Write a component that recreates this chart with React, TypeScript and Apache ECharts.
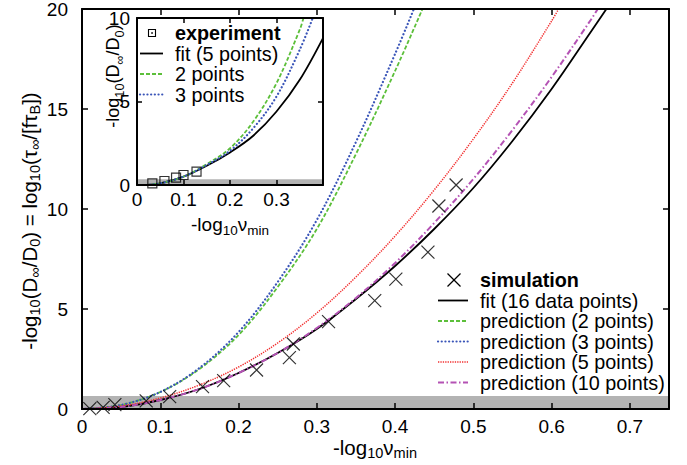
import React, { useEffect, useRef } from 'react';
import * as echarts from 'echarts';

// ---------- main plot: simulation points ----------
const simX = [0.010, 0.027, 0.042, 0.082, 0.112, 0.154, 0.181, 0.223, 0.265, 0.270, 0.315, 0.374, 0.401, 0.442, 0.456, 0.478];
const simY = [0.02, 0.08, 0.22, 0.41, 0.62, 1.12, 1.42, 1.95, 2.57, 3.25, 4.37, 5.42, 6.49, 7.84, 10.15, 11.2];

// fit (16 data points)
const fit16X = [0, 0.05, 0.1, 0.15, 0.2, 0.25, 0.3, 0.35, 0.4, 0.45, 0.5, 0.55, 0.6, 0.65, 0.67];
const fit16Y = [0, 0.1, 0.45, 1.0, 1.8, 2.8, 4.0, 5.5, 7.15, 9.0, 11.05, 13.4, 16.0, 18.85, 20];
// prediction (2 points)
const pred2X = [0, 0.05, 0.1, 0.15, 0.2, 0.25, 0.3, 0.35, 0.4, 0.435];
const pred2Y = [0, 0.2, 0.85, 2.0, 3.7, 6.1, 9.0, 12.75, 16.9, 20];
// prediction (3 points)
const pred3X = [0, 0.05, 0.1, 0.15, 0.2, 0.25, 0.3, 0.35, 0.4, 0.424];
const pred3Y = [0, 0.2, 0.85, 2.05, 3.85, 6.35, 9.45, 13.35, 17.75, 20];
// prediction (5 points)
const pred5X = [0, 0.05, 0.1, 0.15, 0.2, 0.25, 0.3, 0.35, 0.4, 0.45, 0.5, 0.55, 0.6, 0.609];
const pred5Y = [0, 0.15, 0.55, 1.2, 2.1, 3.3, 4.8, 6.6, 8.65, 10.95, 13.5, 16.3, 19.4, 20];
// prediction (10 points)
const pred10X = [0, 0.05, 0.1, 0.15, 0.2, 0.25, 0.3, 0.35, 0.4, 0.45, 0.5, 0.55, 0.6, 0.65, 0.659];
const pred10Y = [0, 0.1, 0.45, 1.0, 1.8, 2.8, 4.05, 5.55, 7.3, 9.3, 11.5, 13.95, 16.6, 19.45, 20];

// ---------- inset ----------
const expX = [0.033, 0.059, 0.084, 0.1, 0.128];
const expY = [0.1, 0.24, 0.44, 0.6, 0.8];
const insFitX = [0.02, 0.05, 0.1, 0.15, 0.2, 0.25, 0.3, 0.35, 0.4];
const insFitY = [0, 0.1, 0.5, 1.15, 1.95, 2.95, 4.4, 6.3, 8.8];
const ins2X = [0.02, 0.05, 0.1, 0.15, 0.2, 0.25, 0.3, 0.35, 0.358];
const ins2Y = [0, 0.1, 0.5, 1.25, 2.2, 3.8, 6.1, 9.3, 10];
const ins3X = [0.02, 0.05, 0.1, 0.15, 0.2, 0.25, 0.3, 0.35, 0.378];
const ins3Y = [0, 0.1, 0.5, 1.2, 2.05, 3.4, 5.3, 8.1, 10];

// axis ranges and shaded bands
const MAIN_X = [0, 0.75];
const MAIN_Y = [0, 20];
const INS_X = [0, 0.4];
const INS_Y = [0, 10];
const MAIN_BAND = 0.65;
const INS_BAND = 0.35;

// legend texts
const mainLegend = ['simulation', 'fit (16 data points)', 'prediction (2 points)', 'prediction (3 points)', 'prediction (5 points)', 'prediction (10 points)'];
const insetLegend = ['experiment', 'fit (5 points)', '2 points', '3 points'];

const FONT = '"Liberation Sans", Arial, Helvetica, sans-serif';
const GREEN = '#5cbf3a';
const BLUE = '#3a55b8';
const RED = '#f23030';
const MAGENTA = '#b452b4';
const BAND = '#b3b3b3';

const pairs = (xs: number[], ys: number[]) => xs.map((x, i) => [x, ys[i]]);

const styles: any = {
  fit: { color: '#000', width: 1.8, type: 'solid', cap: 'butt' },
  p2: { color: GREEN, width: 1.8, type: [4, 2], cap: 'butt' },
  p3: { color: BLUE, width: 2.2, type: [0.1, 3.6], cap: 'round' },
  p5: { color: RED, width: 1.5, type: [1.3, 1.1], cap: 'butt' },
  p10: { color: MAGENTA, width: 2, type: [6, 2.5, 1.5, 2.5], cap: 'butt' },
};

const lineSeries = (name: string, xs: number[], ys: number[], st: any, idx: number, extra: any = {}) => ({
  type: 'line',
  name,
  data: pairs(xs, ys),
  xAxisIndex: idx,
  yAxisIndex: idx,
  symbol: 'none',
  showSymbol: false,
  smooth: 0.35,
  silent: true,
  z: 3,
  lineStyle: { color: st.color, width: st.width, type: st.type, cap: st.cap },
  ...extra,
});

const axisBase = (extra: any) => ({
  type: 'value',
  z: 10,
  axisLine: { show: true, onZero: false, lineStyle: { color: '#000', width: 2 } },
  axisTick: { show: true, inside: true, length: 6, lineStyle: { color: '#000', width: 1.5 } },
  splitLine: { show: false },
  ...extra,
});

const tickLabel = (margin: number, hideFrom: number) => ({
  show: true,
  margin,
  fontSize: 19,
  fontFamily: FONT,
  color: '#000',
  formatter: (v: number) => (v >= hideFrom ? '' : String(v)),
});

const richText = (x: number, y: number, text: string, size: number, rotate = false) => ({
  type: 'text',
  x,
  y,
  rotation: rotate ? Math.PI / 2 : 0,
  z: 100,
  silent: true,
  style: {
    text,
    fontSize: size,
    fontFamily: FONT,
    fill: '#000',
    lineHeight: 20,
    align: 'center',
    verticalAlign: 'middle',
    textAlign: 'center',
    textVerticalAlign: 'middle',
    rich: {
      s: { fontSize: size * 0.71, fontFamily: FONT, fill: '#000', color: '#000', verticalAlign: 'bottom', height: 8 },
    },
  },
});

const plainText = (x: number, y: number, text: string, bold = false) => ({
  type: 'text',
  x,
  y,
  z: 100,
  silent: true,
  style: {
    text,
    fontSize: 19.8,
    fontFamily: FONT,
    fontWeight: bold ? 'bold' : 'normal',
    fill: '#000',
    align: 'left',
    verticalAlign: 'middle',
    textAlign: 'left',
    textVerticalAlign: 'middle',
  },
});

const sample = (x1: number, x2: number, y: number, st: any) => ({
  type: 'line',
  z: 100,
  silent: true,
  shape: { x1, y1: y, x2, y2: y },
  style: {
    stroke: st.color,
    lineWidth: st.width,
    lineDash: Array.isArray(st.type) ? st.type : null,
    lineCap: st.cap,
  },
});

function buildGraphics() {
  const g: any[] = [];
  // main legend
  const rowY = (i: number) => 280 + i * 20.5;
  const cx = 454;
  const c = 6.5;
  g.push({ type: 'line', z: 100, silent: true, shape: { x1: cx - c, y1: rowY(0) - c, x2: cx + c, y2: rowY(0) + c }, style: { stroke: '#000', lineWidth: 1.2 } });
  g.push({ type: 'line', z: 100, silent: true, shape: { x1: cx - c, y1: rowY(0) + c, x2: cx + c, y2: rowY(0) - c }, style: { stroke: '#000', lineWidth: 1.2 } });
  const mainStyles = [null, styles.fit, styles.p2, styles.p3, styles.p5, styles.p10];
  mainLegend.forEach((t, i) => {
    if (mainStyles[i]) g.push(sample(438, 468, rowY(i), mainStyles[i]));
    g.push(plainText(480, rowY(i), t, i === 0));
  });
  // inset legend
  const iy = (i: number) => 33 + i * 20.5;
  g.push({ type: 'rect', z: 100, silent: true, shape: { x: 148.5, y: iy(0) - 3.5, width: 7, height: 7 }, style: { fill: 'none', stroke: '#000', lineWidth: 1.1 } });
  g.push({ type: 'circle', z: 100, silent: true, shape: { cx: 152, cy: iy(0), r: 0.8 }, style: { fill: '#000' } });
  const insStyles = [null, styles.fit, styles.p2, styles.p3];
  insetLegend.forEach((t, i) => {
    if (insStyles[i]) g.push(sample(140, 163, iy(i), insStyles[i]));
    g.push(plainText(175, iy(i), t, i === 0));
  });
  // axis titles
  g.push(richText(375, 447, '-log{s|10}ν{s|min}', 20.5));
  g.push(richText(29, 221, '-log{s|10}(D{s|∞}/D{s|0}) = log{s|10}(τ{s|∞}/[fτ{s|B}])', 20.5, true));
  g.push(richText(230, 224, '-log{s|10}ν{s|min}', 19));
  g.push(richText(113, 76, '-log{s|10}(D{s|∞}/D{s|0})', 18, true));
  return g;
}

function buildOption(): any {
  return {
    animation: false,
    backgroundColor: '#fff',
    grid: [
      { left: 82, top: 9, width: 587, height: 400, show: false, outerBoundsMode: 'none', containLabel: false },
      { left: 137, top: 18, width: 186, height: 167, show: true, backgroundColor: '#fff', borderWidth: 0, outerBoundsMode: 'none', containLabel: false, z: 4 },
    ],
    xAxis: [
      axisBase({ gridIndex: 0, position: 'bottom', min: MAIN_X[0], max: MAIN_X[1], interval: 0.1, axisLabel: tickLabel(8, 0.72) }),
      axisBase({ gridIndex: 0, position: 'top', min: MAIN_X[0], max: MAIN_X[1], interval: 0.1, axisLabel: { show: false } }),
      axisBase({ gridIndex: 1, position: 'bottom', min: INS_X[0], max: INS_X[1], interval: 0.1, axisTick: { show: true, inside: true, length: 5, lineStyle: { color: '#000', width: 1.5 } }, axisLabel: tickLabel(5, 0.35) }),
      axisBase({ gridIndex: 1, position: 'top', min: INS_X[0], max: INS_X[1], interval: 0.1, axisTick: { show: true, inside: true, length: 5, lineStyle: { color: '#000', width: 1.5 } }, axisLabel: { show: false } }),
    ],
    yAxis: [
      axisBase({ gridIndex: 0, position: 'left', min: MAIN_Y[0], max: MAIN_Y[1], interval: 5, axisLabel: tickLabel(14, 1000) }),
      axisBase({ gridIndex: 0, position: 'right', min: MAIN_Y[0], max: MAIN_Y[1], interval: 5, axisLabel: { show: false } }),
      axisBase({ gridIndex: 1, position: 'left', min: INS_Y[0], max: INS_Y[1], interval: 5, axisTick: { show: true, inside: true, length: 5, lineStyle: { color: '#000', width: 1.5 } }, axisLabel: tickLabel(7, 1000) }),
      axisBase({ gridIndex: 1, position: 'right', min: INS_Y[0], max: INS_Y[1], interval: 5, axisTick: { show: true, inside: true, length: 5, lineStyle: { color: '#000', width: 1.5 } }, axisLabel: { show: false } }),
    ],
    series: [
      lineSeries('fit (16 data points)', fit16X, fit16Y, styles.fit, 0, {
        markArea: {
          silent: true,
          itemStyle: { color: BAND, opacity: 1 },
          label: { show: false },
          data: [[{ xAxis: MAIN_X[0], yAxis: 0 }, { xAxis: MAIN_X[1], yAxis: MAIN_BAND }]],
        },
      }),
      lineSeries('prediction (2 points)', pred2X, pred2Y, styles.p2, 0),
      lineSeries('prediction (3 points)', pred3X, pred3Y, styles.p3, 0),
      lineSeries('prediction (5 points)', pred5X, pred5Y, styles.p5, 0),
      lineSeries('prediction (10 points)', pred10X, pred10Y, styles.p10, 0),
      {
        type: 'scatter',
        name: 'simulation',
        data: pairs(simX, simY),
        xAxisIndex: 0,
        yAxisIndex: 0,
        symbol: 'path://M0,0L10,10M0,10L10,0',
        symbolSize: 13,
        silent: true,
        z: 5,
        itemStyle: { color: 'transparent', borderColor: '#000', borderWidth: 1.2 },
      },
      lineSeries('fit (5 points)', insFitX, insFitY, styles.fit, 2, {
        z: 6,
        markArea: {
          silent: true,
          z: 5,
          itemStyle: { color: BAND, opacity: 1 },
          label: { show: false },
          data: [[{ xAxis: INS_X[0], yAxis: 0 }, { xAxis: INS_X[1], yAxis: INS_BAND }]],
        },
      }),
      lineSeries('2 points', ins2X, ins2Y, styles.p2, 2, { z: 6 }),
      lineSeries('3 points', ins3X, ins3Y, styles.p3, 2, { z: 6 }),
      {
        type: 'scatter',
        name: 'experiment',
        data: pairs(expX, expY),
        xAxisIndex: 2,
        yAxisIndex: 2,
        symbol: 'rect',
        symbolSize: 9,
        silent: true,
        z: 7,
        itemStyle: { color: 'transparent', borderColor: '#000', borderWidth: 1.2 },
      },
    ],
    graphic: buildGraphics(),
  };
}

export default function App() {
  const ref = useRef<HTMLDivElement>(null);
  useEffect(() => {
    if (!ref.current) return;
    const chart = echarts.init(ref.current, undefined, { renderer: 'svg' });
    chart.setOption(buildOption());
    return () => chart.dispose();
  }, []);
  return (
    <div
      ref={ref}
      style={{ position: 'absolute', left: 0, top: 0, width: 687, height: 465, background: '#fff' }}
    />
  );
}
